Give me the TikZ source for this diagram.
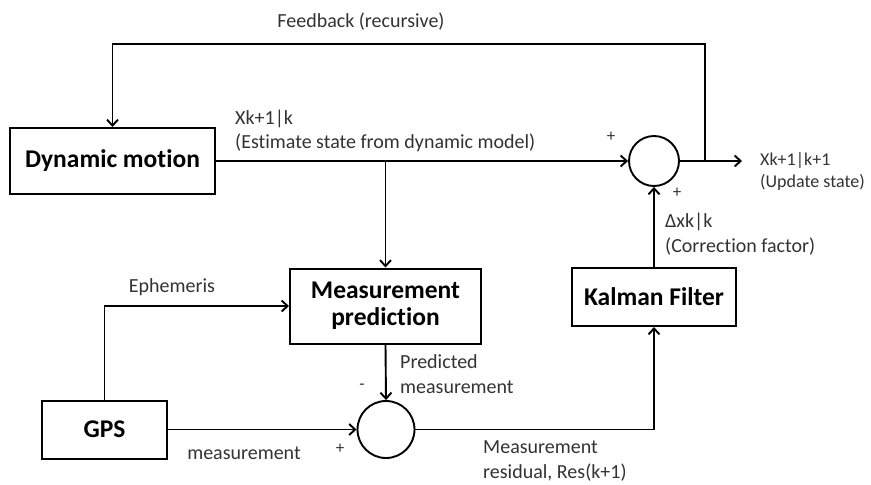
\documentclass[tikz,border=0pt]{standalone}
\usepackage{fontspec}
\setmainfont{Carlito}[Ligatures=NoCommon]
\usepackage{tikz}
\usetikzlibrary{arrows.meta}

\begin{document}
\begin{tikzpicture}[x=1pt,y=-1pt,
    >={Straight Barb[length=6pt,width=11pt]},
    flow/.style={line width=1.9pt},
    blockbox/.style={draw,line width=2pt,align=center,inner sep=0pt,
      font=\fontsize{25.5}{27}\selectfont\bfseries},
    sumnode/.style={draw,circle,line width=1.9pt,inner sep=0pt},
    lbl/.style={text=black!80,font=\fontsize{20}{24.5}\selectfont,inner sep=0pt,align=left},
    sgn/.style={text=black!80,font=\fontsize{17}{17}\selectfont,inner sep=0pt}]
          \useasboundingbox[fill=white] (0,0) rectangle (871,485);
          % blocks
          \node[blockbox,minimum width=205pt,minimum height=66pt] (dm) at (112.5,161) {Dynamic motion};
          \node[blockbox,minimum width=191pt,minimum height=75pt] (mp) at (385.5,306) {Measurement\\prediction};
          \node[blockbox,minimum width=164pt,minimum height=58pt] (kf) at (654,297) {Kalman Filter};
          \node[blockbox,minimum width=125pt,minimum height=58pt] (gps) at (104.5,429.5) {GPS};
          \node[sumnode,minimum size=50pt] (s1) at (654,161) {};
          \node[sumnode,minimum size=57pt] (s2) at (386,429.5) {};
          \coordinate (fb) at (705,161);
          \coordinate (fbtop) at (705,44);
          \coordinate (out) at (742,161);
          \coordinate (tap) at (mp.north |- dm.east);
          % connectors
          \draw[flow,->] (dm.east) -- (s1.west);
          \draw[flow,->] (s1.east) -- (out);
          \draw[flow,->] (fb) -- (fbtop) -| (dm.north);
          \draw[flow,->] (tap) -- (mp.north);
          \draw[flow,->] (gps.north) |- (mp.west);
          \draw[flow,->] (gps.east) -- (s2.west);
          \draw[flow,->] (mp.south) -- (s2.north);
          \draw[flow,->] (s2.east) -| (kf.south);
          \draw[flow,->] (kf.north) -- (s1.south);
          % labels
          \node[lbl] (lfb) at (361,22) {Feedback (recursive)};
          \node[lbl,anchor=west] (lest) at (235,131) {Xk+1|k\\(Estimate state from dynamic model)};
          \node[lbl,anchor=west,font=\fontsize{18}{22}\selectfont] (lout) at (760,171) {Xk+1|k+1\\(Update state)};
          \node[lbl,anchor=west] (lcor) at (665,234) {Δxk|k\\(Correction factor)};
          \node[lbl] (leph) at (172,287) {Ephemeris};
          \node[lbl,anchor=west] (lpred) at (400,374) {Predicted\\measurement};
          \node[lbl] (lmeas) at (244,453) {measurement};
          \node[lbl,anchor=west] (lres) at (483,461) {Measurement\\residual, Res(k+1)};
          \node[sgn] (p1) at (611,137) {+};
          \node[sgn] (p2) at (677,193) {+};
          \node[sgn] (p3) at (340,449) {+};
          \node[sgn] (m1) at (362,387) {-};
        \end{tikzpicture}
\end{document}
